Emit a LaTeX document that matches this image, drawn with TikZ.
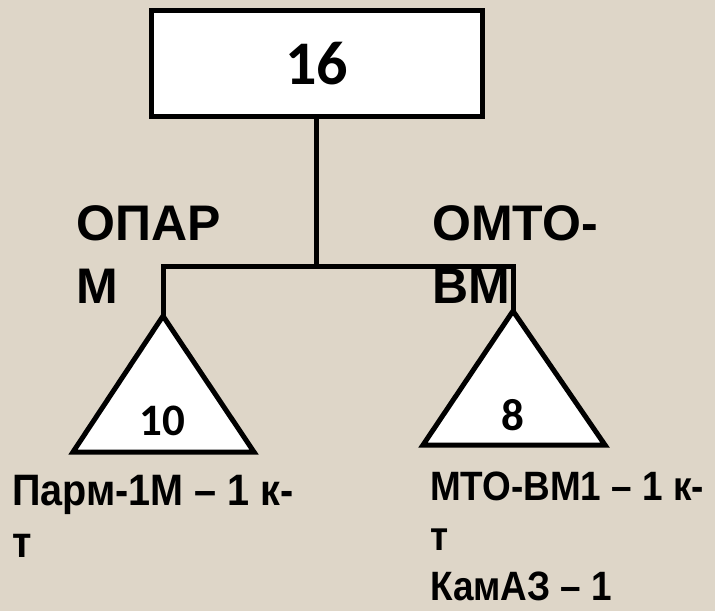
\documentclass[tikz,border=0pt]{standalone}
\usepackage{fontspec}
\setmainfont{Liberation Sans}
\newfontfamily\numfont{Carlito}
\newfontfamily\narrowfont[FakeStretch=0.9]{Liberation Sans}
\definecolor{paper}{RGB}{222,214,200}
\tikzset{
  link/.style={line width=5pt, line join=miter},
  chiefbox/.style={draw, line width=5pt, fill=white, minimum width=331pt, minimum height=106pt, inner sep=0pt, font=\numfont\bfseries\fontsize{62}{62}\selectfont},
  tri/.style={draw, line width=5pt, fill=white, line join=miter},
  num/.style={inner sep=0pt, font=\numfont\bfseries\fontsize{45}{45}\selectfont},
  unitname/.style={inner sep=0pt, anchor=north west, align=left, font=\bfseries\fontsize{50}{63}\selectfont},
  crew/.style={inner sep=0pt, anchor=north west, align=left, font=\narrowfont\bfseries\fontsize{44}{52}\selectfont}
}
\begin{document}
\begin{tikzpicture}[x=1pt, y=-1pt]
        \fill[paper] (0, 0) rectangle (715, 611);
        \useasboundingbox (0, 0) rectangle (715, 611);
        \node[chiefbox] (chief) at (316.5, 63.5) {16};
        \coordinate (lapex) at (163, 316);
        \coordinate (rapex) at (513, 311);
        \draw[link] (chief.south) -- ++(0, 147) coordinate (fork);
        \draw[link] (lapex) -- (lapex |- fork) -- (rapex |- fork) -- (rapex);
        \draw[tri] (lapex) -- (73, 452) -- (254, 452) -- cycle;
        \draw[tri] (rapex) -- (423, 445) -- (605, 445) -- cycle;
        \node[num] (lnum) at (162, 421) {10};
        \node[num] (rnum) at (512.5, 415) {8};
        \node[unitname] (lunit) at (76, 205) {ОПАР\\М};
        \node[unitname] (runit) at (432, 205) {ОМТО-\\ВМ};
        \node[crew] (lcrew) at (12, 475) {Парм-1М – 1 к-\\т};
        \node[crew, font=\narrowfont\bfseries\fontsize{41}{50}\selectfont] (rcrew) at (430, 472) {МТО-ВМ1 – 1 к-\\т\\КамАЗ – 1};
    \end{tikzpicture}
\end{document}
